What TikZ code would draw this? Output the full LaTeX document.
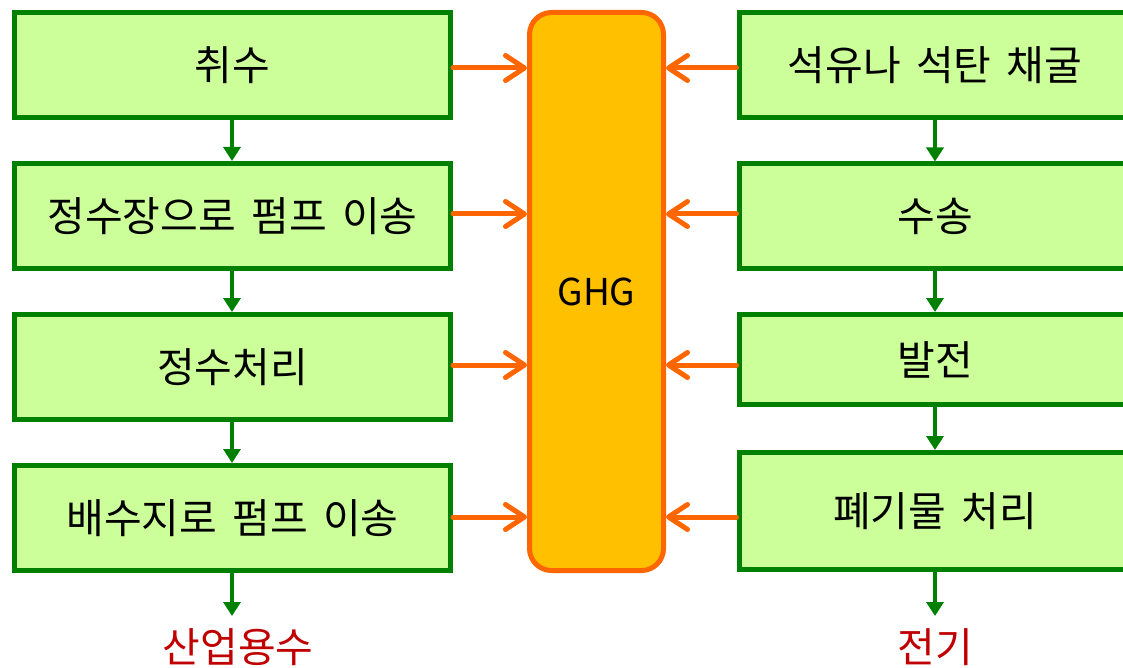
\documentclass[tikz,border=0pt]{standalone}
\usepackage{fontspec}
\setmainfont{Noto Sans CJK KR}
\usetikzlibrary{arrows.meta}
\definecolor{boxfill}{HTML}{CCFF99}
\definecolor{boxline}{HTML}{008000}
\definecolor{ghgfill}{HTML}{FFC000}
\definecolor{ghgline}{HTML}{FF6600}
\definecolor{outred}{HTML}{C00000}
\tikzset{
  procbox/.style={draw=boxline, fill=boxfill, line width=5pt, inner sep=0pt,
    font=\fontsize{41}{48}\selectfont, text=black},
  ghgbox/.style={draw=ghgline, fill=ghgfill, line width=5pt, rounded corners=22pt,
    minimum width=134pt, minimum height=558pt, inner sep=0pt,
    font=\fontsize{37}{44}\selectfont},
  flow/.style={draw=boxline, line width=3.5pt, -{Triangle[length=14pt,width=17pt]}},
  emit/.style={draw=ghgline, line width=5pt, line cap=round,
    -{Straight Barb[length=19pt,width=25pt,line cap=round,line join=round]}},
  outlabel/.style={text=outred, font=\fontsize{41}{48}\selectfont, inner sep=0pt},
}
\begin{document}
\begin{tikzpicture}[x=1pt,y=-1pt]
\useasboundingbox (0,0) rectangle (1123,668);
% left column
\node[procbox, minimum width=436pt, minimum height=105pt] (L1) at (232.5,65) {취수};
\node[procbox, minimum width=436pt, minimum height=105pt] (L2) at (232.5,216) {정수장으로\hspace{0.15em} 펌프\hspace{0.15em} 이송};
\node[procbox, minimum width=436pt, minimum height=105pt] (L3) at (232.5,367) {정수처리};
\node[procbox, minimum width=436pt, minimum height=105pt] (L4) at (232.5,518) {배수지로\hspace{0.15em} 펌프\hspace{0.15em} 이송};
% right column
\node[procbox, minimum width=392pt, minimum height=105pt] (R1) at (935,65) {석유나\hspace{0.15em} 석탄\hspace{0.15em} 채굴};
\node[procbox, minimum width=392pt, minimum height=104pt] (R2) at (935,216) {수송};
\node[procbox, minimum width=392pt, minimum height=90pt] (R3) at (935,359.5) {발전};
\node[procbox, minimum width=392pt, minimum height=117pt] (R4) at (935,511) {폐기물\hspace{0.15em} 처리};
% GHG
\node[ghgbox] (G) at (596.5,291.5) {GHG};
% outputs
\node[outlabel] (O1) at (238,647) {산업용수};
\node[outlabel] (O2) at (935,647) {전기};
\coordinate (E1) at (232,616);
\coordinate (E2) at (935,616);
% vertical flows
\draw[flow] (L1.south -| 232,0) -- (L2.north -| 232,0);
\draw[flow] (L2.south -| 232,0) -- (L3.north -| 232,0);
\draw[flow] (L3.south -| 232,0) -- (L4.north -| 232,0);
\draw[flow] (L4.south -| 232,0) -- (E1);
\draw[flow] (R1.south) -- (R2.north);
\draw[flow] (R2.south) -- (R3.north);
\draw[flow] (R3.south) -- (R4.north);
\draw[flow] (R4.south) -- (E2);
% emissions
\draw[emit] ([yshift=-3pt]L1.east) -- ([yshift=-3pt]L1.east -| G.west);
\draw[emit] ([yshift=2pt]L2.east) -- ([yshift=2pt]L2.east -| G.west);
\draw[emit] ([yshift=2pt]L3.east) -- ([yshift=2pt]L3.east -| G.west);
\draw[emit] ([yshift=1pt]L4.east) -- ([yshift=1pt]L4.east -| G.west);
\draw[emit] ([yshift=-3pt]R1.west) -- ([yshift=-3pt]R1.west -| G.east);
\draw[emit] ([yshift=2pt]R2.west) -- ([yshift=2pt]R2.west -| G.east);
\draw[emit] ([yshift=-5.5pt]R3.west) -- ([yshift=-5.5pt]R3.west -| G.east);
\draw[emit] ([yshift=-6pt]R4.west) -- ([yshift=-6pt]R4.west -| G.east);
\end{tikzpicture}
\end{document}
